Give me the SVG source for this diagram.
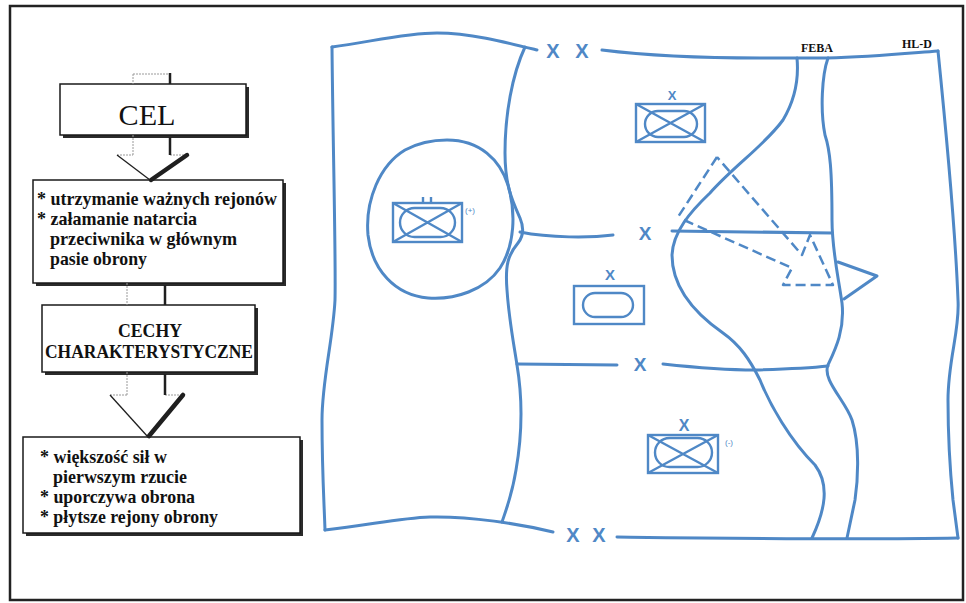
<svg xmlns="http://www.w3.org/2000/svg" width="966" height="603" viewBox="0 0 966 603">
<style>
.bg{fill:#fff}
.frame{fill:none;stroke:#222;stroke-width:2.5}
.box{fill:#fff;stroke:#1a1a1a;stroke-width:1.5}
.shadow{fill:#2b2b2b}
.t{font-family:"Liberation Serif","Times New Roman",serif;fill:#111}
.b{font-weight:bold;font-size:19px}
.faint{stroke:#9a9a9a;stroke-width:1;fill:none;stroke-dasharray:2 1}
.dark{stroke:#1f1f1f;stroke-width:2.5;fill:none}
.heavy{stroke:#1f1f1f;stroke-width:4.5;fill:none;stroke-linecap:round}
.thin{stroke:#1f1f1f;stroke-width:1.3;fill:none}
.map{fill:none;stroke:#4f88c6;stroke-width:3;stroke-linecap:round;stroke-linejoin:round}
.sym{fill:none;stroke:#4f88c6;stroke-width:2.4}
.dash{fill:none;stroke:#4f88c6;stroke-width:2.5;stroke-dasharray:10 5;stroke-linejoin:round}
.mx{font-family:"Liberation Sans",Arial,sans-serif;fill:#4f88c6;text-anchor:middle;font-weight:bold}
.sm{font-family:"Liberation Sans",Arial,sans-serif;fill:#4f88c6;text-anchor:middle}
.lbl{font-family:"Liberation Serif","Times New Roman",serif;font-weight:bold;fill:#111;text-anchor:middle;font-size:12px}
</style>
<rect class="bg" x="0" y="0" width="966" height="603"/>
<rect class="frame" x="10" y="6" width="953" height="594"/>

<!-- flowchart nodes -->
<g id="node-cel">
  <rect class="shadow" x="63" y="87" width="186" height="51"/>
  <rect class="box" x="60" y="84" width="186" height="51"/>
  <text class="t" x="147" y="125" font-size="30" text-anchor="middle" textLength="57" lengthAdjust="spacingAndGlyphs">CEL</text>
</g>
<g id="node-cel-items">
  <rect class="shadow" x="36" y="183" width="250" height="103"/>
  <rect class="box" x="33" y="180" width="250" height="103"/>
  <text class="t b" x="37" y="205" textLength="240" lengthAdjust="spacingAndGlyphs">* utrzymanie ważnych rejonów</text>
  <text class="t b" x="37" y="225" textLength="160" lengthAdjust="spacingAndGlyphs">* załamanie natarcia</text>
  <text class="t b" x="50" y="245" textLength="187" lengthAdjust="spacingAndGlyphs">przeciwnika w głównym</text>
  <text class="t b" x="50" y="265" textLength="97" lengthAdjust="spacingAndGlyphs">pasie obrony</text>
</g>
<g id="node-cechy">
  <rect class="shadow" x="45" y="308" width="213" height="67"/>
  <rect class="box" x="42" y="305" width="213" height="67"/>
  <text class="t b" x="150" y="337" text-anchor="middle" textLength="64" lengthAdjust="spacingAndGlyphs">CECHY</text>
  <text class="t b" x="149" y="358" text-anchor="middle" textLength="208" lengthAdjust="spacingAndGlyphs">CHARAKTERYSTYCZNE</text>
</g>
<g id="node-cechy-items">
  <rect class="shadow" x="26" y="440" width="277" height="96"/>
  <rect class="box" x="23" y="437" width="277" height="96"/>
  <text class="t b" x="40" y="463" textLength="127" lengthAdjust="spacingAndGlyphs">* większość sił w</text>
  <text class="t b" x="53" y="483" textLength="134" lengthAdjust="spacingAndGlyphs">pierwszym rzucie</text>
  <text class="t b" x="40" y="503" textLength="155" lengthAdjust="spacingAndGlyphs">* uporczywa obrona</text>
  <text class="t b" x="40" y="523" textLength="178" lengthAdjust="spacingAndGlyphs">* płytsze rejony obrony</text>
</g>

<!-- flowchart connectors -->
<g id="connectors">
  <line class="faint" x1="133" y1="74" x2="170" y2="74"/>
  <line class="faint" x1="133" y1="74" x2="133" y2="84"/>
  <line class="dark" x1="170" y1="73" x2="170" y2="84"/>

  <line class="faint" x1="133" y1="135" x2="133" y2="155"/>
  <line class="faint" x1="117" y1="155" x2="133" y2="155"/>
  <line class="faint" x1="170" y1="155" x2="187" y2="155"/>
  <line class="dark" x1="170" y1="137" x2="170" y2="155"/>
  <line class="thin" x1="117" y1="155" x2="150" y2="180"/>
  <line class="heavy" x1="187" y1="155" x2="151" y2="180"/>

  <line class="faint" x1="127" y1="283" x2="127" y2="305"/>
  <line class="dark" x1="165" y1="285" x2="165" y2="305"/>

  <line class="faint" x1="127" y1="372" x2="127" y2="395"/>
  <line class="faint" x1="110" y1="395" x2="127" y2="395"/>
  <line class="faint" x1="165" y1="395" x2="183" y2="395"/>
  <line class="dark" x1="165" y1="374" x2="165" y2="395"/>
  <line class="thin" x1="110" y1="395" x2="148" y2="437"/>
  <line class="heavy" x1="183" y1="395" x2="149" y2="436"/>
</g>

<!-- map -->
<g id="map">
  <!-- outer boundary -->
  <path class="map" d="M332,47 C370,42 405,33 437,33 C470,33 505,42 537,50"/>
  <path class="map" d="M602,50 C650,56 700,58 760,58 L827,58 C870,57 900,54 938,51"/>
  <path class="map" d="M938,51 C945,120 955,220 958,300 C960,330 948,360 948,400 C948,440 950,470 953,500 L958,538"/>
  <path class="map" d="M617,537 C700,538 850,540 958,538"/>
  <path class="map" d="M325,530 C370,525 400,518 430,517 C470,516 520,524 553,532"/>
  <path class="map" d="M332,47 C333,150 336,260 335,300 C333,340 322,380 322,420 C322,470 324,500 325,530"/>
  <!-- inner boundary -->
  <path class="map" d="M525,47 C512,75 505,115 505,153 C505,185 512,200 520,218 C525,230 522,238 518,243 C508,255 505,265 507,290 C509,320 514,345 517,365 C522,395 523,430 516,470 C512,495 506,510 502,522"/>
  <!-- reserve area -->
  <path class="map" d="M447,140 C480,140 500,160 508,185 C516,212 515,245 500,268 C485,290 455,300 428,298 C395,295 372,270 368,235 C365,200 380,165 405,150 C418,143 432,140 447,140 Z"/>
  <!-- lateral lines -->
  <path class="map" d="M520,232 C550,238 590,238 613,235"/>
  <path class="map" d="M672,231 L832,233"/>
  <path class="map" d="M517,364 L617,365"/>
  <path class="map" d="M663,364 C700,368 730,370 755,370 C790,369 810,368 828,366"/>
  <!-- FEBA and HL-D lines -->
  <path class="map" d="M797,58 C799,80 795,100 783,120 C765,145 735,165 710,193 C690,212 673,232 672,255 C672,285 690,310 723,333 C740,345 750,360 760,380 C770,405 790,440 815,465 C830,485 825,510 812,538"/>
  <path class="map" d="M828,58 C822,75 820,110 825,135 C830,150 832,170 832,220 C832,250 838,275 842,303 C845,330 835,350 828,365 C822,380 845,400 852,420 C860,445 858,480 855,500 L847,538"/>
  <path class="map" d="M838,262 L877,276 L844,299"/>
  <!-- counterattack arrow -->
  <path class="dash" d="M717,157 L678,217 M684,220 L792,268 L783,285 L833,285 L810,235 L802,255 L717,157"/>

  <!-- boundary markers -->
  <text class="mx" x="553" y="58" font-size="20">X</text>
  <text class="mx" x="582" y="58" font-size="20">X</text>
  <text class="mx" x="573" y="542" font-size="20">X</text>
  <text class="mx" x="599" y="542" font-size="20">X</text>
  <text class="mx" x="645" y="240" font-size="19">X</text>
  <text class="mx" x="640" y="371" font-size="19">X</text>

  <!-- units -->
  <g id="unit-top">
    <text class="mx" x="672" y="100" font-size="13">X</text>
    <rect class="sym" x="636" y="104" width="69" height="38"/>
    <rect class="sym" x="645" y="111" width="52" height="26" rx="13"/>
    <path class="sym" d="M636,104 L705,142 M705,104 L636,142"/>
  </g>
  <g id="unit-reserve">
    <rect class="sym" x="393" y="203" width="69" height="39"/>
    <rect class="sym" x="400" y="208" width="55" height="29" rx="14.5"/>
    <path class="sym" d="M393,203 L462,242 M462,203 L393,242 M423,197 L423,203 M431,197 L431,203"/>
    <text class="sm" x="470" y="213" font-size="8">(+)</text>
  </g>
  <g id="unit-middle">
    <text class="mx" x="610" y="280" font-size="15">X</text>
    <rect class="sym" x="574" y="286" width="70" height="38"/>
    <rect class="sym" x="583" y="293" width="50" height="24" rx="12"/>
  </g>
  <g id="unit-bottom">
    <text class="mx" x="684" y="431" font-size="16">X</text>
    <rect class="sym" x="648" y="435" width="70" height="38"/>
    <rect class="sym" x="655" y="438" width="57" height="29" rx="14.5"/>
    <path class="sym" d="M648,435 L718,473 M718,435 L648,473"/>
    <text class="sm" x="729" y="445" font-size="8">(-)</text>
  </g>

  <text class="lbl" x="817" y="52">FEBA</text>
  <text class="lbl" x="917" y="48">HL-D</text>
</g>
</svg>
